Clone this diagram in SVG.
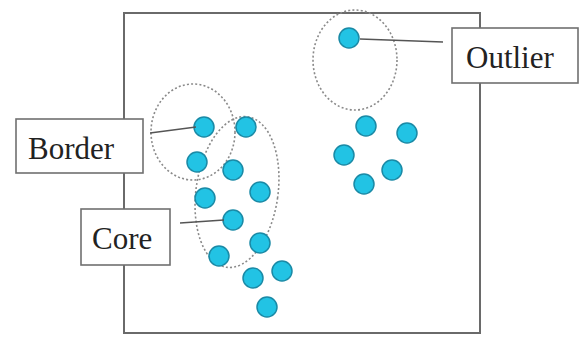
<svg xmlns="http://www.w3.org/2000/svg" width="579" height="337" viewBox="0 0 579 337">
<style>
.frame{fill:none;stroke:#6a6a6a;stroke-width:2}
.dash{fill:none;stroke:#8a8a8a;stroke-width:1.6;stroke-dasharray:2 2.2}
.dot{fill:#22c3e4;stroke:#1a8aa6;stroke-width:1.5}
.box{fill:#fff;stroke:#707070;stroke-width:1.6}
.lbl{font-family:"Liberation Serif","Times New Roman",serif;font-size:31px;fill:#222}
.conn{stroke:#555;stroke-width:1.4;fill:none}
</style>
<rect width="579" height="337" fill="#fff"/>
<rect class="frame" x="124" y="13" width="356" height="320"/>
<g id="regions">
<ellipse class="dash" cx="355" cy="60" rx="42" ry="50"/>
<ellipse class="dash" cx="193" cy="132" rx="42" ry="48"/>
<ellipse class="dash" cx="237" cy="192" rx="41" ry="76" transform="rotate(8 237 192)"/>
</g>
<g id="points">
<circle class="dot" cx="349" cy="38" r="10"/>
<circle class="dot" cx="366" cy="126" r="10"/>
<circle class="dot" cx="407" cy="133" r="10"/>
<circle class="dot" cx="344" cy="155" r="10"/>
<circle class="dot" cx="392" cy="170" r="10"/>
<circle class="dot" cx="364" cy="184" r="10"/>
<circle class="dot" cx="204" cy="127" r="10"/>
<circle class="dot" cx="246" cy="127" r="10"/>
<circle class="dot" cx="197" cy="162" r="10"/>
<circle class="dot" cx="233" cy="170" r="10"/>
<circle class="dot" cx="260" cy="192" r="10"/>
<circle class="dot" cx="205" cy="198" r="10"/>
<circle class="dot" cx="233" cy="220" r="10"/>
<circle class="dot" cx="260" cy="243" r="10"/>
<circle class="dot" cx="219" cy="256" r="10"/>
<circle class="dot" cx="253" cy="278" r="10"/>
<circle class="dot" cx="282" cy="271" r="10"/>
<circle class="dot" cx="267" cy="307" r="10"/>
</g>
<g id="connectors">
<line class="conn" x1="360" y1="39" x2="443" y2="42"/>
<line class="conn" x1="150" y1="133" x2="196" y2="127"/>
<line class="conn" x1="180" y1="223" x2="224" y2="220"/>
</g>
<g id="outlier">
<rect class="box" x="452" y="28" width="126" height="55"/>
<text class="lbl" x="466" y="68">Outlier</text>
</g>
<g id="border">
<rect class="box" x="16" y="119" width="127" height="54"/>
<text class="lbl" x="28" y="159">Border</text>
</g>
<g id="core">
<rect class="box" x="81" y="209" width="89" height="56"/>
<text class="lbl" x="92" y="249">Core</text>
</g>
</svg>
